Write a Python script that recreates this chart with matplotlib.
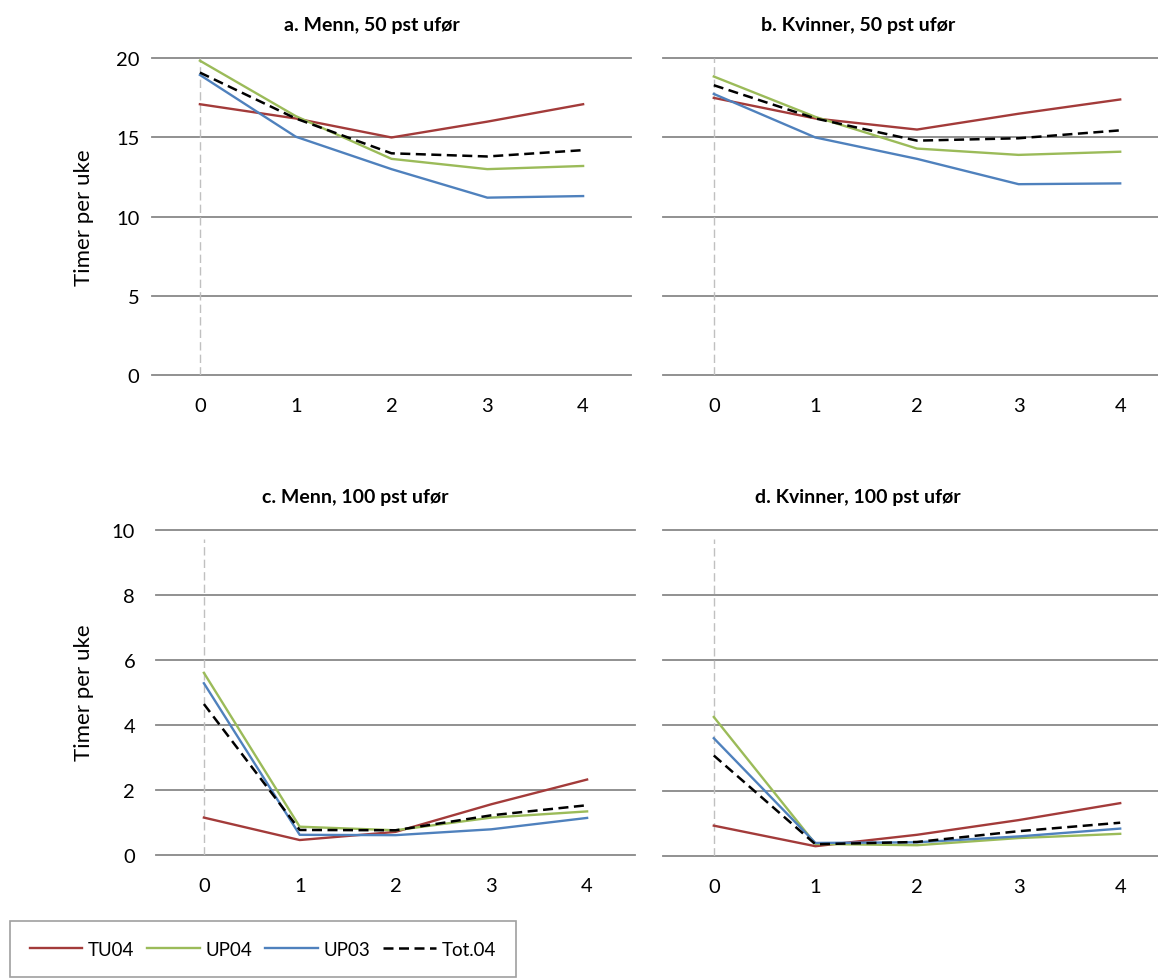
import matplotlib
matplotlib.use("Agg")
import matplotlib.pyplot as plt

# categories (years after start)
years = [0, 1, 2, 3, 4]
series_names = ["TU04", "UP04", "UP03", "Tot.04"]

# a. Menn, 50 pst ufør
a_tu04 = [17.1, 16.2, 15.0, 16.0, 17.1]
a_up04 = [19.85, 16.35, 13.65, 13.0, 13.2]
a_up03 = [18.95, 15.05, 13.0, 11.2, 11.3]
a_tot04 = [19.1, 16.2, 14.0, 13.8, 14.2]

# b. Kvinner, 50 pst ufør
b_tu04 = [17.5, 16.2, 15.5, 16.5, 17.4]
b_up04 = [18.85, 16.3, 14.3, 13.9, 14.1]
b_up03 = [17.75, 15.0, 13.65, 12.05, 12.1]
b_tot04 = [18.3, 16.2, 14.8, 14.95, 15.45]

# c. Menn, 100 pst ufør
c_tu04 = [1.15, 0.46, 0.71, 1.56, 2.32]
c_up04 = [5.6, 0.87, 0.76, 1.15, 1.34]
c_up03 = [5.28, 0.62, 0.61, 0.79, 1.14]
c_tot04 = [4.64, 0.77, 0.76, 1.22, 1.53]

# d. Kvinner, 100 pst ufør
d_tu04 = [0.93, 0.3, 0.65, 1.1, 1.62]
d_up04 = [4.26, 0.37, 0.33, 0.55, 0.68]
d_up03 = [3.61, 0.4, 0.42, 0.6, 0.84]
d_tot04 = [3.08, 0.36, 0.43, 0.76, 1.02]

titles = ["a. Menn, 50 pst ufør", "b. Kvinner, 50 pst ufør",
          "c. Menn, 100 pst ufør", "d. Kvinner, 100 pst ufør"]
y_label = "Timer per uke"
top_yticks = [0, 5, 10, 15, 20]
bottom_yticks = [0, 2, 4, 6, 8, 10]

W, H = 1158, 979
COLORS = ["#A33B3A", "#9BBB59", "#4F81BD", "black"]
GRID = "#888888"

plt.rcParams["font.family"] = ["Lato", "DejaVu Sans"]
plt.rcParams["font.size"] = 14.5


def px_axes(fig, left, right, top, bottom):
    return fig.add_axes([left / W, 1 - bottom / H, (right - left) / W, (bottom - top) / H])


def draw_panel(ax, data, yticks, show_ylabels, ylab_pad, vline_top):
    ax.set_xlim(-0.5, 4.5)
    ax.set_ylim(yticks[0], yticks[-1])
    for tick in yticks:
        ax.axhline(tick, color=GRID, lw=1.3, zorder=1, clip_on=False)
    ax.axvline(0, ymin=0, ymax=vline_top, color="#C0C0C0", lw=1.0,
               dashes=(6, 3), zorder=1)

    lines = []
    for vals, color in zip(data, COLORS):
        if color == "black":
            ln, = ax.plot(years, vals, color=color, lw=1.8, dashes=(4, 2.2), zorder=3)
        else:
            ln, = ax.plot(years, vals, color=color, lw=1.7, zorder=2)
        lines.append(ln)

    for s in ax.spines.values():
        s.set_visible(False)
    ax.set_xticks(years)
    ax.set_yticks(yticks)
    ax.tick_params(axis="x", length=0, pad=16)
    ax.tick_params(axis="y", length=0, pad=ylab_pad)
    if not show_ylabels:
        ax.set_yticklabels([])
    return lines


def main():
    fig = plt.figure(figsize=(W / 100, H / 100), dpi=100)

    ax_a = px_axes(fig, 152, 631, 59.3, 376)
    ax_b = px_axes(fig, 663, 1171, 59.3, 376)
    ax_c = px_axes(fig, 156, 635, 530.7, 856)
    ax_d = px_axes(fig, 663, 1171, 530.7, 857)

    lines = draw_panel(ax_a, [a_tu04, a_up04, a_up03, a_tot04], top_yticks, True, 9, 1.0)
    draw_panel(ax_b, [b_tu04, b_up04, b_up03, b_tot04], top_yticks, False, 9, 1.0)
    draw_panel(ax_c, [c_tu04, c_up04, c_up03, c_tot04], bottom_yticks, True, 15, 0.97)
    draw_panel(ax_d, [d_tu04, d_up04, d_up03, d_tot04], bottom_yticks, False, 9, 0.97)

    # panel titles and axis labels
    for (x, y), t in zip([(372, 25), (858, 25), (355, 498), (858, 498)], titles):
        fig.text(x / W, 1 - y / H, t, ha="center", va="center", fontweight="bold", fontsize=14)
    fig.text(84 / W, 1 - 218 / H, y_label, rotation=90, ha="center", va="center", fontsize=16)
    fig.text(84 / W, 1 - 693 / H, y_label, rotation=90, ha="center", va="center", fontsize=16)

    leg = fig.legend(lines, series_names, loc="upper left",
                     bbox_to_anchor=(10 / W, 1 - 922 / H), bbox_transform=fig.transFigure,
                     ncol=4, frameon=True, fancybox=False, borderaxespad=0,
                     borderpad=1.05, handlelength=2.8, handletextpad=0.3,
                     columnspacing=0.7, fontsize=13.5)
    leg.get_frame().set_edgecolor(GRID)
    leg.get_frame().set_linewidth(1.2)

    fig.savefig("out.png", dpi=100)


if __name__ == "__main__":
    main()
